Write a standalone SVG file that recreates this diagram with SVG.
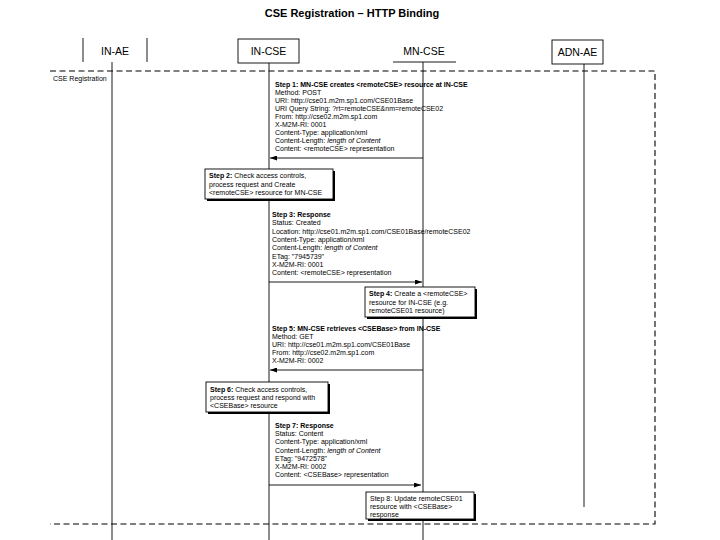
<svg xmlns="http://www.w3.org/2000/svg" width="720" height="540" viewBox="0 0 720 540">
<defs>
<marker id="ah" markerWidth="7" markerHeight="5" refX="7" refY="2.5" orient="auto" markerUnits="userSpaceOnUse"><path d="M0,0 L7,2.5 L0,5 Z" fill="#000"/></marker>
<style>
text{font-family:"Liberation Sans",Arial,sans-serif;fill:#000}
.t{font-size:7px}
.b{font-weight:bold}
.i{font-style:italic}
.hd{font-size:10.5px;text-anchor:middle}
.ttl{font-size:11px;font-weight:bold;text-anchor:middle}
.life{stroke:#000;stroke-width:0.9;fill:none}
.msg{stroke:#000;stroke-width:0.9;fill:none;marker-end:url(#ah)}
.frame{stroke:#000;stroke-width:1.1;fill:none;stroke-dasharray:6 3.5}
.box{fill:#fff;stroke:#000;stroke-width:0.9}
.sh{fill:#000}
</style>
</defs>
<rect width="720" height="540" fill="#fff"/>
<text class="ttl" x="352" y="17">CSE Registration – HTTP Binding</text>

<g id="lifelines">
<line class="life" x1="112" y1="62" x2="112" y2="540"/>
<line class="life" x1="269" y1="63" x2="269" y2="540"/>
<line class="life" x1="423" y1="62" x2="423" y2="540"/>
<line class="life" x1="584" y1="64" x2="584" y2="507"/>
</g>

<g id="in-ae">
<line class="life" x1="83" y1="38" x2="83" y2="62"/>
<line class="life" x1="147" y1="38" x2="147" y2="62"/>
<text class="hd" x="115" y="55">IN-AE</text>
</g>
<g id="in-cse">
<rect class="box" x="238" y="39" width="61" height="24"/>
<text class="hd" x="268.5" y="55">IN-CSE</text>
</g>
<g id="mn-cse">
<line class="life" x1="393" y1="62" x2="456" y2="62"/>
<text class="hd" x="424" y="55">MN-CSE</text>
</g>
<g id="adn-ae">
<rect class="box" x="552" y="40" width="51" height="24"/>
<text class="hd" x="577.5" y="56">ADN-AE</text>
</g>

<g id="frame">
<polyline class="frame" points="50,71 655,71 655,524 50,524"/>
<text class="t" x="53" y="81">CSE Registration</text>
</g>

<g id="connectors">
<line class="msg" x1="423" y1="158" x2="270" y2="158"/>
<line class="msg" x1="269" y1="282" x2="422" y2="282"/>
<line class="msg" x1="423" y1="370" x2="270" y2="370"/>
<line class="msg" x1="269" y1="485" x2="421" y2="485"/>
</g>

<g id="step1">
<text x="275" y="87" class="t b">Step 1: MN-CSE creates &lt;remoteCSE&gt; resource at IN-CSE</text>
<text x="275" y="95" class="t">Method: POST</text>
<text x="275" y="103" class="t">URI: http://cse01.m2m.sp1.com/CSE01Base</text>
<text x="275" y="111" class="t">URI Query String: ?rt=remoteCSE&amp;nm=remoteCSE02</text>
<text x="275" y="119" class="t">From: http://cse02.m2m.sp1.com</text>
<text x="275" y="127" class="t">X-M2M-RI: 0001</text>
<text x="275" y="135" class="t">Content-Type: application/xml</text>
<text x="275" y="143" class="t">Content-Length: <tspan class="i">length of Content</tspan></text>
<text x="275" y="151" class="t">Content: &lt;remoteCSE&gt; representation</text>
</g>

<g id="step2">
<rect class="sh" x="207" y="171" width="128" height="30"/>
<rect class="box" x="205" y="169" width="128" height="30"/>
<text x="209" y="178" class="t"><tspan class="b">Step 2:</tspan> Check access controls,</text>
<text x="209" y="186.5" class="t">process request and Create</text>
<text x="209" y="195" class="t">&lt;remoteCSE&gt; resource for MN-CSE</text>
</g>

<g id="step3">
<text x="272" y="217" class="t b">Step 3: Response</text>
<text x="272" y="225.3" class="t">Status: Created</text>
<text x="272" y="233.6" class="t">Location: http://cse01.m2m.sp1.com/CSE01Base/remoteCSE02</text>
<text x="272" y="241.9" class="t">Content-Type: application/xml</text>
<text x="272" y="250.2" class="t">Content-Length: <tspan class="i">length of Content</tspan></text>
<text x="272" y="258.5" class="t">ETag: "7945739"</text>
<text x="272" y="266.8" class="t">X-M2M-RI: 0001</text>
<text x="272" y="275.1" class="t">Content: &lt;remoteCSE&gt; representation</text>
</g>

<g id="step4">
<rect class="sh" x="367" y="289" width="110" height="30"/>
<rect class="box" x="365" y="287" width="110" height="30"/>
<text x="369" y="296" class="t"><tspan class="b">Step 4:</tspan> Create a &lt;remoteCSE&gt;</text>
<text x="369" y="304.5" class="t">resource for IN-CSE (e.g.</text>
<text x="369" y="313" class="t">remoteCSE01 resource)</text>
</g>

<g id="step5">
<text x="272" y="331" class="t b">Step 5: MN-CSE retrieves &lt;CSEBase&gt; from IN-CSE</text>
<text x="272" y="339" class="t">Method: GET</text>
<text x="272" y="347" class="t">URI: http://cse01.m2m.sp1.com/CSE01Base</text>
<text x="272" y="355" class="t">From: http://cse02.m2m.sp1.com</text>
<text x="272" y="363" class="t">X-M2M-RI: 0002</text>
</g>

<g id="step6">
<rect class="sh" x="208" y="384" width="122" height="30"/>
<rect class="box" x="206" y="382" width="122" height="30"/>
<text x="210" y="392" class="t"><tspan class="b">Step 6:</tspan> Check access controls,</text>
<text x="210" y="400" class="t">process request and respond with</text>
<text x="210" y="408" class="t">&lt;CSEBase&gt; resource</text>
</g>

<g id="step7">
<text x="275" y="428" class="t b">Step 7: Response</text>
<text x="275" y="436.2" class="t">Status: Content</text>
<text x="275" y="444.4" class="t">Content-Type: application/xml</text>
<text x="275" y="452.6" class="t">Content-Length: <tspan class="i">length of Content</tspan></text>
<text x="275" y="460.8" class="t">ETag: "9472578"</text>
<text x="275" y="469" class="t">X-M2M-RI: 0002</text>
<text x="275" y="477.2" class="t">Content: &lt;CSEBase&gt; representation</text>
</g>

<g id="step8">
<rect class="sh" x="368" y="494" width="108" height="27"/>
<rect class="box" x="366" y="492" width="108" height="27"/>
<text x="370" y="500.5" class="t">Step 8:  Update remoteCSE01</text>
<text x="370" y="508.5" class="t">resource with &lt;CSEBase&gt;</text>
<text x="370" y="516.5" class="t">response</text>
</g>
</svg>
